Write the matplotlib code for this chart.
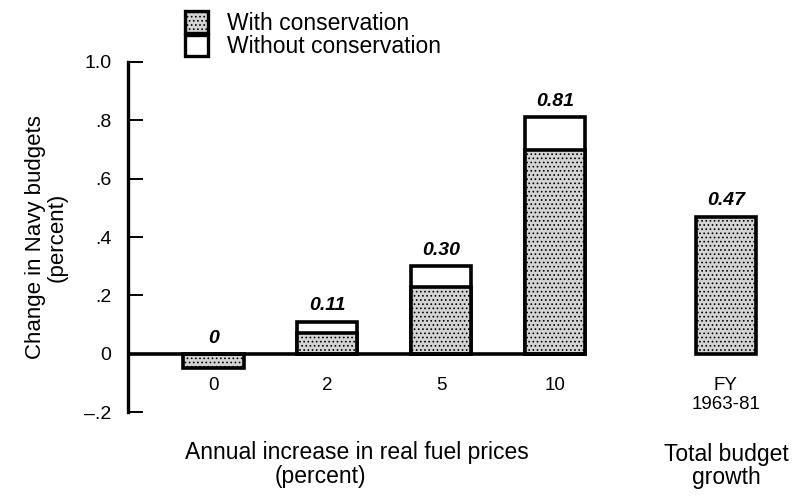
import numpy as np
import matplotlib.pyplot as plt
from matplotlib.patches import Patch

plt.rcParams['font.family'] = ['Liberation Sans', 'DejaVu Sans']
plt.rcParams['hatch.linewidth'] = 0.7

# Data (percent change in Navy budgets)
categories = ['0', '2', '5', '10', 'FY\n1963-81']
with_cons = [-0.05, 0.07, 0.23, 0.70, 0.47]
without_cons = [0.0, 0.11, 0.30, 0.81, None]
value_labels = ['0', '0.11', '0.30', '0.81', '0.47']
yticks = [-0.2, 0, 0.2, 0.4, 0.6, 0.8, 1.0]
ytick_labels = ['\u2013.2', '0', '.2', '.4', '.6', '.8', '1.0']

x = np.array([0, 1, 2, 3, 4.5])
width = 0.53
stip = '#d4d4d4'
fs = 16.5

fig = plt.figure(figsize=(7.95, 4.96), dpi=100)
ax = fig.add_axes([0.161, 0.169, 0.795, 0.706])

# white "without conservation" part on top
for xi, w, wo in zip(x, with_cons, without_cons):
    if wo is not None and wo > 0:
        ax.bar(xi, wo, width, color='white', edgecolor='black', linewidth=2.6, zorder=2)
# stippled "with conservation" part
ax.bar(x, with_cons, width, color=stip, edgecolor='black', linewidth=2.6,
       hatch='....', zorder=3)

# value labels
for xi, w, wo, lab in zip(x, with_cons, without_cons, value_labels):
    top = max(w, wo if wo is not None else 0, 0)
    ax.text(xi, top + 0.025, lab, ha='center', va='bottom', fontsize=14,
            fontweight='bold', fontstyle='italic')

# baseline under the fuel price bars
ax.plot([-0.75, x[3] + width / 2], [0, 0], color='black', lw=2.6, zorder=4,
        solid_capstyle='butt')

ax.set_xlim(-0.75, 4.8)
ax.set_ylim(-0.2, 1.0)
ax.set_yticks(yticks)
ax.set_yticklabels(ytick_labels, fontsize=14)
ax.set_xticks(x)
ax.set_xticklabels(categories, fontsize=13.5, linespacing=1.1)
ax.tick_params(axis='y', direction='in', length=11, width=1.4, pad=12)
ax.tick_params(axis='x', length=0, pad=-25)

for s in ['top', 'right', 'bottom']:
    ax.spines[s].set_visible(False)
ax.spines['left'].set_linewidth(2.4)

ax.set_ylabel('Change in Navy budgets\n(percent)', fontsize=16, labelpad=12,
              linespacing=1.0)

fig.text(357 / 795, 1 - 453 / 496, 'Annual increase in real fuel prices',
         ha='center', va='center', fontsize=fs)
fig.text(320 / 795, 1 - 477 / 496, '(percent)', ha='center', va='center',
         fontsize=fs)
fig.text(726 / 795, 1 - 466 / 496, 'Total budget\ngrowth', ha='center',
         va='center', fontsize=fs, linespacing=1.0)

handles = [Patch(facecolor=stip, edgecolor='black', hatch='....', linewidth=2.4),
           Patch(facecolor='white', edgecolor='black', linewidth=2.4)]
fig.legend(handles, ['With conservation', 'Without conservation'],
           loc='upper left', bbox_to_anchor=(174 / 795, 1.0),
           frameon=False, fontsize=fs, handlelength=1.0, handleheight=1.05,
           labelspacing=0.0, handletextpad=0.8, borderpad=0)

fig.savefig('out.png', dpi=100)
